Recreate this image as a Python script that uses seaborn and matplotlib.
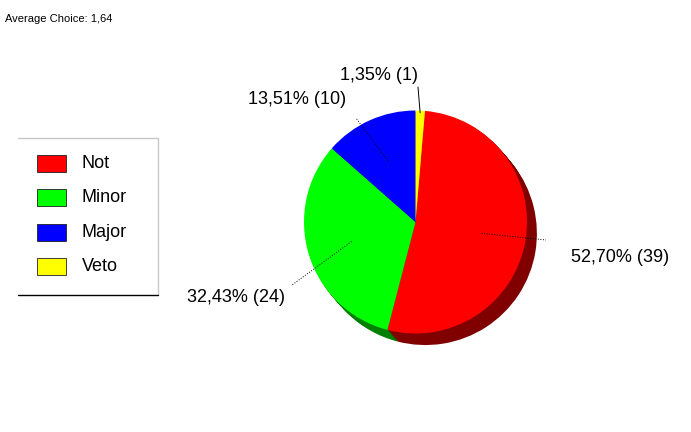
import numpy as np
import matplotlib
matplotlib.use("Agg")
import matplotlib.pyplot as plt
from matplotlib.patches import Rectangle
import seaborn as sns

# ---- data ----
categories = ["Not", "Minor", "Major", "Veto"]
counts = [39, 24, 10, 1]
percent_labels = ["52,70% (39)", "32,43% (24)", "13,51% (10)", "1,35% (1)"]
title_text = "Average Choice: 1,64"

top_colors = ["#ff0000", "#00ff00", "#0000ff", "#ffff00"]
side_colors = ["#800000", "#008000", "#000080", "#808000"]

sns.set_theme(style="white")
plt.rcParams["font.family"] = ["Liberation Sans", "DejaVu Sans"]

W, H = 691, 432
fig = plt.figure(figsize=(W / 100, H / 100), dpi=100)
ax = fig.add_axes([0, 0, 1, 1])

def py(y):
    return H - y

cx, cy, r = 415.5, py(222), 111.5
total = sum(counts)
start = 90 - 360 * counts[-1] / total  # veto sits just right of 12 o'clock

# extruded "3D" side
depth = 11
for i in range(depth, 0, -1):
    ax.pie(counts, colors=side_colors, startangle=start, counterclock=False,
           radius=r, center=(cx + i * 0.9, cy - i * 1.05),
           wedgeprops=dict(linewidth=0), frame=True)
wedges, _ = ax.pie(counts, colors=top_colors, startangle=start, counterclock=False,
                   radius=r, center=(cx, cy),
                   wedgeprops=dict(linewidth=0), frame=True)
ax.set_xlim(0, W)
ax.set_ylim(0, H)
ax.set_aspect("equal")
ax.axis("off")

# label anchors (pixel positions of the text) and leader end points
label_pos = [(571, 257), (187, 298), (248, 100), (340, 75)]
leader_end = [(546, 240), (292, 285), (356, 118), (418, 87)]
leader_style = [":", ":", ":", "-"]

for w, lab, (lx, ly), (ex, ey), ls in zip(wedges, percent_labels, label_pos,
                                          leader_end, leader_style):
    mid = np.deg2rad((w.theta1 + w.theta2) / 2)
    frac = 0.6 if ls == ":" else 0.98
    sx, sy = cx + frac * r * np.cos(mid), cy + frac * r * np.sin(mid)
    ax.plot([sx, ex], [sy, py(ey)], ls=ls, color="black", lw=0.7)
    ax.text(lx, py(ly), lab, fontsize=13, ha="left", va="center", color="black")

# title
ax.text(5, py(19), title_text, fontsize=8, ha="left", va="center", color="black")

# legend box
x0, x1, y0, y1 = 18, 158, 138, 295
ax.plot([x0, x1], [py(y0), py(y0)], color="#c8c8c8", lw=1)
ax.plot([x1, x1], [py(y0), py(y1)], color="#c8c8c8", lw=1)
ax.plot([x0, x1], [py(y1), py(y1)], color="black", lw=1)
sw_y = [163.5, 197.5, 232.5, 266.5]
for c, name, yy in zip(top_colors, categories, sw_y):
    ax.add_patch(Rectangle((37, py(yy) - 8.5), 29, 17, facecolor=c,
                           edgecolor="#202020", lw=0.6))
    ax.text(82, py(yy), name, fontsize=13, ha="left", va="center", color="black")

fig.savefig("out.png", dpi=100, facecolor="white")
